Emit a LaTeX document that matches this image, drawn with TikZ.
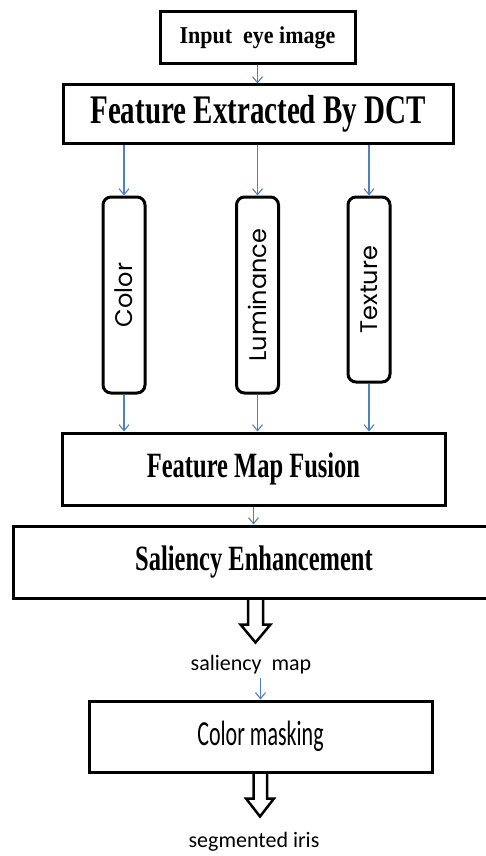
\documentclass[tikz,border=0pt]{standalone}
\usepackage{fontspec}
\setmainfont{Liberation Serif}
\newfontfamily\calibrifont{Carlito}
\newfontfamily\gothicfont{Poppins}
\usepackage{graphicx}
\usetikzlibrary{arrows.meta,calc}

\definecolor{arrowblue}{RGB}{79,129,189}
\newcommand{\tallText}[2]{\scalebox{1}[#1]{#2}}

\begin{document}
\begin{tikzpicture}[x=1pt,y=-1pt,
    titlebox/.style={draw,line width=3pt,inner sep=0pt},
    featbox/.style={draw,line width=3pt,rounded corners=8pt,inner sep=0pt,rotate=90,
      minimum width=196,minimum height=42,font=\gothicfont\fontsize{24}{28}\selectfont},
    flow/.style={draw=arrowblue,line width=1.1pt,-{Straight Barb[length=6pt,width=10pt]}},
    hollow/.style={draw,line width=2.5pt,line join=miter}]
    \clip (0,0) rectangle (486,856);

    \node[titlebox,minimum width=195,minimum height=52,font=\bfseries\fontsize{22}{26}\selectfont]
        (inp) at (257.5,38) {\tallText{1.1}{Input\ \ eye image}};
    \node[titlebox,minimum width=390,minimum height=58,font=\bfseries\fontsize{29}{34}\selectfont]
        (dct) at (258,114) {\tallText{1.4}{Feature Extracted By DCT}};

    \node[featbox] (color) at (124,295) {Color};
    \node[featbox] (lum) at (257.5,295) {Luminance};
    \node[featbox,minimum width=185] (tex) at (369,289.5) {Texture};

    \node[titlebox,minimum width=383,minimum height=72,font=\bfseries\fontsize{24.5}{29}\selectfont]
        (fmf) at (253.5,469) {\tallText{1.45}{Feature Map Fusion}};
    \node[titlebox,minimum width=482,minimum height=72,font=\bfseries\fontsize{24.5}{29}\selectfont]
        (se) at (254,562) {\tallText{1.45}{Saliency Enhancement}};
    \node[font=\calibrifont\fontsize{22}{26}\selectfont] (smap) at (251,665) {saliency\ \ map};
    \node[titlebox,minimum width=343,minimum height=71,font=\calibrifont\fontsize{22}{26}\selectfont]
        (cmask) at (260.5,736.5) {\tallText{1.6}{Color masking}};
    \node[font=\calibrifont\fontsize{22}{26}\selectfont] (seg) at (254,842) {segmented iris};

    % thin arrows
    \draw[flow] (inp.south) -- (inp.south |- dct.north);
    \foreach \f in {color,lum,tex} {
        \draw[flow] (dct.south -| \f) -- (\f.east);
        \draw[flow] (\f.west) -- (fmf.north -| \f);
    }
    \draw[flow] (fmf.south) -- (fmf.south |- se.north);
    \draw[flow] (cmask.north |- smap.south) -- (cmask.north);

    % block arrows
    \draw[hollow] ($(se.south)+(-6,0)$) -- ++(0,25) -- ++(-7.5,0) -- ++(15,18)
        -- ++(15,-18) -- ++(-7.5,0) -- ++(0,-25);
    \draw[hollow] ($(cmask.south)+(-7,0)$) -- ++(0,25) -- ++(-7.5,0) -- ++(14,18)
        -- ++(14,-18) -- ++(-7,0) -- ++(0,-25);
\end{tikzpicture}
\end{document}
